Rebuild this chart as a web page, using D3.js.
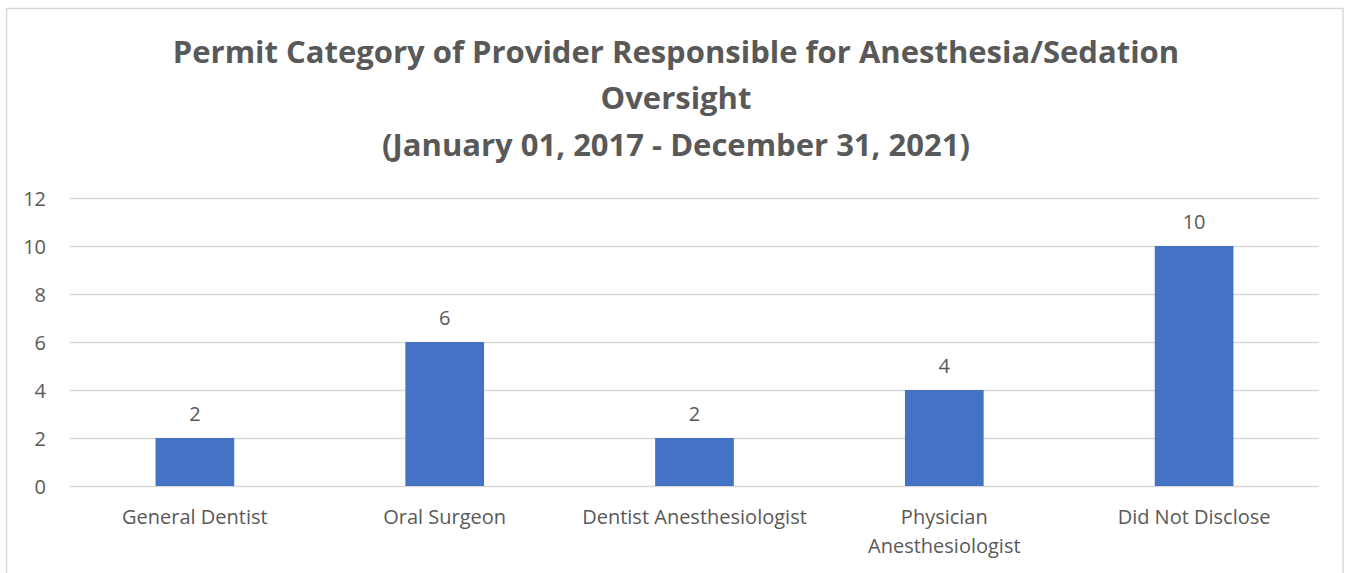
<!DOCTYPE html>
<html>
<head>
<meta charset="utf-8">
<script src="https://cdn.jsdelivr.net/npm/d3@7/dist/d3.min.js"></script>
<style>
  html, body { margin: 0; padding: 0; background: #fff; }
  svg { display: block; }
  text { font-family: "Open Sans", "Noto Sans", sans-serif; fill: #595959; }
</style>
</head>
<body>
<svg id="chart" width="1349" height="573"></svg>
<script>
// Provider permit categories and incident counts
const categories = [
  ["General Dentist"],
  ["Oral Surgeon"],
  ["Dentist Anesthesiologist"],
  ["Physician", "Anesthesiologist"],
  ["Did Not Disclose"]
];
const counts = [2, 6, 2, 4, 10];
const yTicks = [0, 2, 4, 6, 8, 10, 12];
const titleLines = [
  "Permit Category of Provider Responsible for Anesthesia/Sedation",
  "Oversight",
  "(January 01, 2017 - December 31, 2021)"
];

const svg = d3.select("#chart");
const W = 1349, H = 573;
const plot = { left: 70, right: 1319, top: 198, bottom: 486 };

// outer chart frame
svg.append("rect")
  .attr("x", 6.5).attr("y", 8.5)
  .attr("width", 1343 - 6.5).attr("height", H + 10)
  .attr("fill", "#fff").attr("stroke", "#d9d9d9").attr("stroke-width", 1.5);

// title
const titleY = [63, 109, 156];
svg.append("g").selectAll("text").data(titleLines).join("text")
  .attr("x", 676).attr("y", (d, i) => titleY[i])
  .attr("text-anchor", "middle")
  .style("font-weight", "bold").style("font-size", "31px")
  .text(d => d);

const x = d3.scaleBand()
  .domain(categories.map((d, i) => i))
  .range([plot.left, plot.right])
  .paddingInner(0.685).paddingOuter(0.3425);

const y = d3.scaleLinear().domain([0, 12]).range([plot.bottom, plot.top]);

// horizontal gridlines + y tick labels
const yAxis = d3.axisLeft(y).tickValues(yTicks)
  .tickSize(-(plot.right - plot.left)).tickPadding(24);
const gy = svg.append("g").attr("transform", `translate(${plot.left},0)`).call(yAxis);
gy.select(".domain").remove();
gy.selectAll(".tick line").attr("stroke", "#d9d9d9").attr("stroke-width", 1.5);
gy.selectAll(".tick text").attr("fill", "#595959")
  .style("font-family", "'Open Sans', sans-serif").style("font-size", "20px")
  .attr("dy", "0.35em");

// bars
svg.append("g").selectAll("rect").data(counts).join("rect")
  .attr("x", (d, i) => x(i))
  .attr("width", x.bandwidth())
  .attr("y", d => y(d))
  .attr("height", d => y(0) - y(d))
  .attr("fill", "#4472c4");

// value labels
svg.append("g").selectAll("text").data(counts).join("text")
  .attr("x", (d, i) => x(i) + x.bandwidth() / 2)
  .attr("y", d => y(d) - 17)
  .attr("text-anchor", "middle")
  .style("font-size", "20px")
  .text(d => d);

// category labels
const gx = svg.append("g").selectAll("text").data(categories).join("text")
  .attr("x", (d, i) => x(i) + x.bandwidth() / 2)
  .attr("y", 524)
  .attr("text-anchor", "middle")
  .style("font-size", "20px");
gx.selectAll("tspan").data(d => d).join("tspan")
  .attr("x", function () { return this.parentNode.getAttribute("x"); })
  .attr("dy", (d, i) => i === 0 ? 0 : 29)
  .text(d => d);
</script>
</body>
</html>
